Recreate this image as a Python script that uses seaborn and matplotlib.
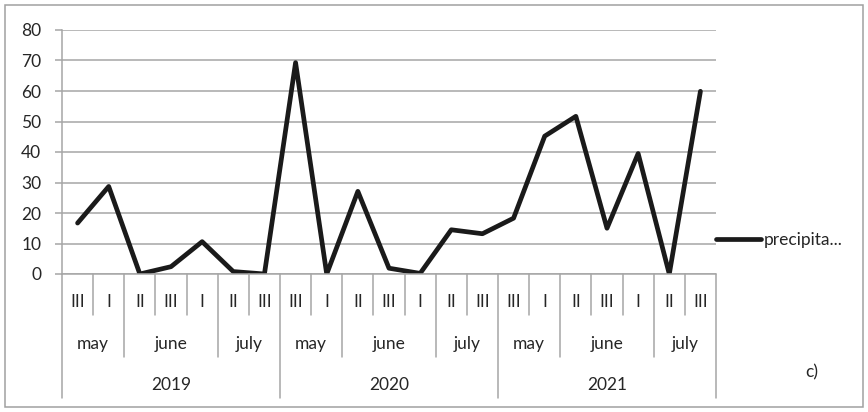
import matplotlib
matplotlib.use("Agg")
import matplotlib.pyplot as plt
import matplotlib.transforms as mtrans
from matplotlib.patches import Rectangle
from matplotlib.lines import Line2D
import seaborn as sns
import pandas as pd
import numpy as np

# ---- data ----
decades = ["III", "I", "II", "III", "I", "II", "III"] * 3
months = [("may", 2), ("june", 3), ("july", 2)]
years = ["2019", "2020", "2021"]
precip = [16.7, 28.7, 0.0, 2.4, 10.6, 0.8, 0.0,
          69.3, 0.0, 27.1, 1.9, 0.2, 14.5, 13.2,
          18.3, 45.2, 51.7, 15.0, 39.5, 0.0, 59.9]
series_label = "precipita..."

sns.set_theme(style="white")
plt.rcParams["font.family"] = ["Lato", "DejaVu Sans"]
TXT = "#262626"
GRID = "#a6a6a6"
FS = 12.5

W, H = 868, 412
fig = plt.figure(figsize=(W / 100, H / 100), dpi=100)
fig.patch.set_facecolor("white")

left, right, top, bottom = 62, 716, 30, 274
ax = fig.add_axes([left / W, (H - bottom) / H, (right - left) / W, (bottom - top) / H])

df = pd.DataFrame({"idx": np.arange(len(precip)), "value": precip})
sns.lineplot(data=df, x="idx", y="value", ax=ax, color="#1a1a1a", linewidth=3.4,
             label=series_label)

ax.set_xlim(-0.5, len(precip) - 0.5)
ax.set_ylim(0, 80)
ax.set_yticks(range(0, 81, 10))
ax.yaxis.grid(True, color=GRID, linewidth=1.1)
ax.set_axisbelow(True)
ax.set_xticks([])
ax.set_xlabel("")
ax.set_ylabel("")
for s in ["top", "right", "bottom"]:
    ax.spines[s].set_visible(False)
ax.spines["left"].set_color(GRID)
ax.spines["left"].set_linewidth(1.1)
ax.tick_params(axis="y", length=5, width=1.1, color=GRID, pad=10,
               labelsize=FS, labelcolor=TXT, left=True)

# hierarchical category axis
tr = mtrans.blended_transform_factory(ax.transData, fig.transFigure)
def fy(px):
    return (H - px) / H

y0 = bottom
y_dec, y_mon, y_year = 315, 357, 398
n = len(precip)
month_bounds = set()
pos = 0
for _ in years:
    for m, c in months:
        month_bounds.add(pos)
        pos += c
month_bounds.add(n)
year_bounds = {0, 7, 14, 21}
for b in range(n + 1):
    xb = b - 0.5
    if b in year_bounds:
        yb = y_year
    elif b in month_bounds:
        yb = y_mon
    else:
        yb = y_dec
    ax.add_line(Line2D([xb, xb], [fy(y0), fy(yb)], transform=tr, color=GRID,
                       linewidth=1.1, clip_on=False))
ax.add_line(Line2D([-0.5, n - 0.5], [fy(y0), fy(y0)], transform=tr, color=GRID,
                   linewidth=1.1, clip_on=False))

for i, d in enumerate(decades):
    ax.text(i, fy(302), d, transform=tr, ha="center", va="center",
            fontsize=FS, color=TXT)
pos = 0
for yi, yr in enumerate(years):
    start = pos
    for m, c in months:
        ax.text(pos + (c - 1) / 2, fy(344), m, transform=tr, ha="center",
                va="center", fontsize=FS, color=TXT)
        pos += c
    ax.text(start + (pos - start - 1) / 2, fy(385), yr, transform=tr,
            ha="center", va="center", fontsize=FS, color=TXT)

# legend
leg = ax.legend(loc="center left", bbox_to_anchor=(1.0, (bottom - 240) / (bottom - top)),
                frameon=False, borderaxespad=0, borderpad=0, handlelength=2.6,
                handletextpad=0.15, fontsize=FS)
for t in leg.get_texts():
    t.set_color(TXT)

fig.text(812 / W, fy(372), "c)", ha="center", va="center", fontsize=FS, color=TXT)

fig.add_artist(Rectangle((5 / W, 5 / H), (W - 10) / W, (H - 10) / H,
                         transform=fig.transFigure, fill=False,
                         edgecolor="#a0a0a0", linewidth=1.1))

fig.savefig("out.png", dpi=100, facecolor="white")
